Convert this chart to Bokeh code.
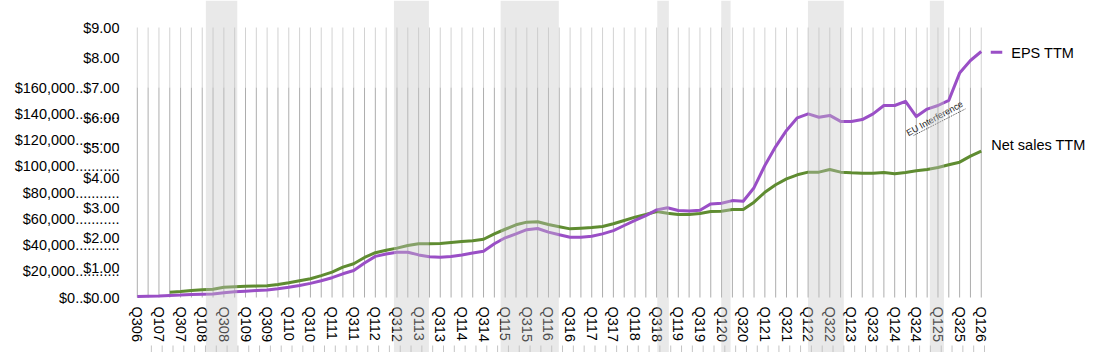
import math
import numpy as np
from bokeh.plotting import figure
from bokeh.models import Range1d, FixedTicker, BoxAnnotation, Label, ColumnDataSource
from bokeh.core.properties import value
from bokeh.embed import file_html
from bokeh.resources import INLINE

QUARTERS = [
    "Q306", "Q406",
    "Q107", "Q207", "Q307", "Q407", "Q108", "Q208", "Q308", "Q408",
    "Q109", "Q209", "Q309", "Q409", "Q110", "Q210", "Q310", "Q410",
    "Q111", "Q211", "Q311", "Q411", "Q112", "Q212", "Q312", "Q412",
    "Q113", "Q213", "Q313", "Q413", "Q114", "Q214", "Q314", "Q414",
    "Q115", "Q215", "Q315", "Q415", "Q116", "Q216", "Q316", "Q416",
    "Q117", "Q217", "Q317", "Q417", "Q118", "Q218", "Q318", "Q418",
    "Q119", "Q219", "Q319", "Q419", "Q120", "Q220", "Q320", "Q420",
    "Q121", "Q221", "Q321", "Q421", "Q122", "Q222", "Q322", "Q422",
    "Q123", "Q223", "Q323", "Q423", "Q124", "Q224", "Q324", "Q424",
    "Q125", "Q225", "Q325", "Q425",
    "Q126",
]

EPS_TTM = [
    0.03, 0.04, 0.05, 0.07, 0.08, 0.10, 0.11, 0.12, 0.16, 0.19,
    0.21, 0.23, 0.25, 0.29, 0.34, 0.40, 0.47, 0.56, 0.66, 0.79,
    0.90, 1.15, 1.37, 1.45, 1.51, 1.51, 1.42, 1.36, 1.34, 1.37,
    1.42, 1.48, 1.54, 1.79, 1.99, 2.12, 2.26, 2.30, 2.18, 2.09,
    2.01, 2.01, 2.04, 2.12, 2.23, 2.40, 2.57, 2.73, 2.92, 2.99,
    2.90, 2.88, 2.91, 3.12, 3.14, 3.23, 3.21, 3.66, 4.40, 5.03,
    5.57, 5.99, 6.12, 6.01, 6.07, 5.87, 5.87, 5.93, 6.12, 6.40,
    6.40, 6.54, 6.03, 6.28, 6.40, 6.57, 7.48, 7.90, 8.20,
]

NET_SALES_TTM = [
    None, None, None, 4040, 4500, 5300, 5900, 6300, 7800, 8200,
    8500, 8700, 8900, 9900, 11200, 12700, 14300, 16700, 19300, 23100,
    25700, 30500, 34100, 36000, 37600, 39600, 40900, 40900, 41100, 41900,
    42700, 43200, 44400, 48500, 52000, 55400, 57400, 57700, 55600, 53900,
    52300, 52800, 53300, 54100, 56200, 58700, 61200, 63200, 65500, 64200,
    63200, 63200, 64000, 65500, 65700, 67000, 67000, 72600, 80200, 85900,
    90400, 93500, 95500, 95500, 97500, 95500, 95000, 94700, 94700, 95200,
    94300, 95200, 96500, 97500, 99000, 101100, 103100, 107700, 111500,
]

EPS_TICKS = [0, 1, 2, 3, 4, 5, 6, 7, 8, 9]
NET_SALES_TICKS = [20000, 40000, 60000, 80000, 100000, 120000, 140000]
NET_SALES_AT_EPS7 = 160000   # net sales value aligned with $7.00

# shaded periods, in quarter-index units (start, end)
BANDS = [(6.34, 9.24), (23.72, 26.95), (33.58, 38.96), (48.06, 49.13),
         (53.97, 54.83), (61.98, 65.30), (73.25, 74.55)]

EU_NOTE = "EU Interference"

PURPLE = "#9a4fc6"
GREEN = "#5f8c31"
FONT = "Liberation Sans"
FS = "14.5px"

# layout (pixels)
W, H = 1099, 352
X0 = 136.8        # pixel column of the first quarter
PAD_Q = 1.0       # quarters of room left of the first quarter
PX_Q = 10.82      # pixels per quarter
PX_EPS = 30.0     # pixels per $1 EPS
Y0 = 297          # pixel row of $0
LABEL_RIGHT = 119 # right edge of y labels

n = len(QUARTERS)
idx = list(range(n))
ratio = NET_SALES_AT_EPS7 / 7.0

left_px = int(round(X0 - PAD_Q * PX_Q))
x_start = -(X0 - left_px) / PX_Q
x_end = x_start + (W - left_px) / PX_Q
y_top = Y0 / PX_EPS
y_bot = -(H - Y0) / PX_EPS

src = ColumnDataSource(dict(
    x=idx,
    eps=np.array(EPS_TTM, dtype=float),
    ns=np.array([np.nan if v is None else v for v in NET_SALES_TTM], dtype=float),
))

p = figure(width=W, height=H, output_backend="svg", toolbar_location=None,
           x_range=Range1d(x_start, x_end), y_range=Range1d(y_bot, y_top),
           x_axis_location=None,
           min_border_left=left_px, min_border_right=0, min_border_top=0,
           min_border_bottom=0)
p.extra_y_ranges = {"ns": Range1d(y_bot * ratio, y_top * ratio)}
p.outline_line_color = None
p.background_fill_color = "white"
p.border_fill_color = "white"
p.grid.visible = False

# vertical grid: lighter in the top part, darker in the net-sales part
p.segment(x0=idx, y0=[7] * n, x1=idx, y1=[9] * n, line_color="#d2d2d2", line_width=1)
p.segment(x0=idx, y0=[0] * n, x1=idx, y1=[7] * n, line_color="#adadad", line_width=1)
stub_top = -(345 - Y0) / PX_EPS
p.segment(x0=[i + 0.3 for i in idx[1:]], y0=[stub_top] * (n - 1),
          x1=[i + 0.3 for i in idx[1:]], y1=[y_bot] * (n - 1),
          line_color="#c4c4c4", line_width=1)

# quarter labels (every other quarter), rotated
p.text(x=idx[::2], y=[-9 / PX_EPS] * len(idx[::2]), text=QUARTERS[::2],
       angle=-math.pi / 2, text_align="left", text_baseline="middle",
       text_font=value(FONT), text_font_size=value(FS), text_color="black")

# y axis (EPS scale with net-sales ticks mapped onto it)
dots = "..........."
ticks = []
overrides = {}
for t in EPS_TICKS:
    ticks.append(float(t))
    overrides[float(t)] = "$%d.00" % t
for v in NET_SALES_TICKS:
    pos = v / ratio
    ticks.append(pos)
    overrides[pos] = "$" + format(v, ",") + dots
overrides[0.0] = "$0..$0.00"
overrides[7.0] = "$" + format(NET_SALES_AT_EPS7, ",") + "..$7.00"
p.yaxis.ticker = FixedTicker(ticks=sorted(ticks))
p.yaxis.major_label_overrides = overrides
p.yaxis.axis_line_color = None
p.yaxis.major_tick_line_color = None
p.yaxis.minor_tick_line_color = None
p.yaxis.major_tick_out = 0
p.yaxis.major_tick_in = 0
p.yaxis.major_label_standoff = left_px - LABEL_RIGHT
p.yaxis.major_label_text_font = FONT
p.yaxis.major_label_text_font_size = FS
p.yaxis.major_label_text_color = "black"

# lines
p.line("x", "ns", source=src, y_range_name="ns", line_color=GREEN, line_width=3,
       line_join="round")
p.line("x", "eps", source=src, line_color=PURPLE, line_width=3, line_join="round")

# annotation
p.line(x=[71.75, 76.55], y=[5.40, 6.29], line_dash="1 1", line_color="#444444", line_width=1)
p.add_layout(Label(x=73.69, y=5.97, text=EU_NOTE, angle=0.5, text_font=FONT,
                   text_font_size="9px", text_align="center", text_baseline="middle",
                   text_color="#222222"))

# end labels
last = n - 1
p.add_layout(Label(x=last, y=EPS_TTM[-1], x_offset=30, y_offset=-1, text="EPS TTM",
                   text_font=FONT, text_font_size=FS, text_baseline="middle",
                   text_color="black"))
p.add_layout(Label(x=last, y=NET_SALES_TTM[-1], y_range_name="ns", x_offset=10,
                   y_offset=6, text="Net sales TTM", text_font=FONT, text_font_size=FS,
                   text_baseline="middle", text_color="black"))
sw_y = EPS_TTM[-1] - 0.7 / PX_EPS
p.add_layout(BoxAnnotation(left=last + 9.5 / PX_Q, right=last + 21 / PX_Q,
                           bottom=sw_y - 1.5 / PX_EPS, top=sw_y + 1.5 / PX_EPS,
                           fill_color=PURPLE, fill_alpha=1, line_color=None))

# shaded periods (full height)
for a, b in BANDS:
    p.add_layout(BoxAnnotation(left=a, right=b, fill_color="#c4c4c4",
                               fill_alpha=0.38, line_color=None))

open("out.html", "w").write(file_html(p, INLINE))
